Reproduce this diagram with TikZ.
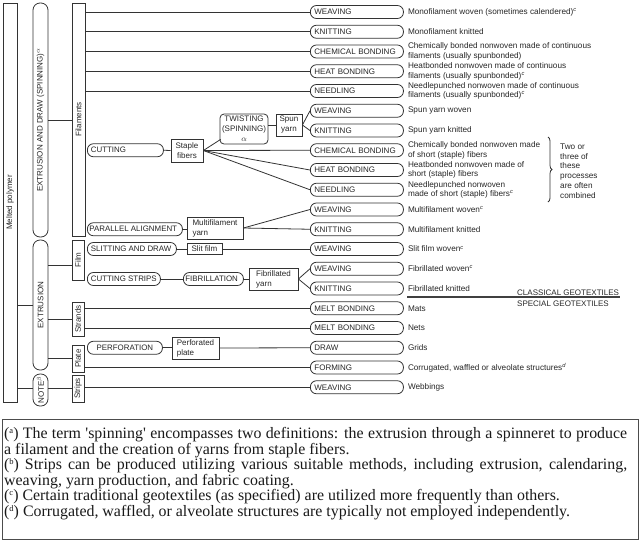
\documentclass[tikz,border=0pt]{standalone}
\usepackage{fontspec}
\setmainfont{Liberation Serif}
\setsansfont{Liberation Sans}
\usetikzlibrary{decorations.pathreplacing,calc}
\newcommand{\nsup}[1]{\textsuperscript{\itshape #1}}
\newcommand{\lbtext}[2]{\makebox[#1][l]{#2}}
\newcommand{\fnmark}[1]{(\raisebox{0.33em}{\fontsize{8.5}{8.5}\selectfont #1})}
\begin{document}
\begin{tikzpicture}[x=1pt,y=-1pt,
  ln/.style={draw=black!80,line width=0.8pt},
  sf/.style={font=\sffamily\fontsize{8}{9.5}\selectfont, text=black!85},
  vbar/.style={ln, sf, rotate=90, inner sep=0pt, anchor=center},
  rbar/.style={vbar, rounded corners=7pt},
  rnode/.style={ln, sf, rounded corners=6pt, anchor=west, minimum height=13pt, text width=85pt, inner xsep=4pt, inner ysep=0pt},
  lbox/.style={ln, sf, font=\sffamily\fontsize{7.9}{9.5}\selectfont, rounded corners=6pt, anchor=west, minimum height=13pt, inner xsep=3.5pt, inner ysep=0pt},
  sbox/.style={ln, sf, inner sep=0pt, align=center},
  desc/.style={sf, font=\sffamily\fontsize{8.2}{9.3}\selectfont, anchor=west, align=left, inner sep=0pt},
  conn/.style={draw=black!80, line width=0.8pt}
]
\useasboundingbox (0,0) rectangle (640,542);

% vertical bars
\node[vbar, minimum width=399pt, minimum height=14pt] (melt) at (10,202.5) {Melted polymer};
\node[rbar, minimum width=234pt, minimum height=15pt] (ead) at (40.5,120) {EXTRUSION AND DRAW (SPINNING)$^{\alpha}$};
\node[vbar, minimum width=233pt, minimum height=13pt] (fil) at (78.5,119.5) {Filaments};
\node[rbar, minimum width=130pt, minimum height=15pt] (extr) at (40.5,305) {EXTRUSION};
\node[vbar, minimum width=40pt, minimum height=12pt] (film) at (78,260) {Film};
\node[vbar, minimum width=34pt, minimum height=12pt] (strands) at (78,319) {Strands};
\node[vbar, minimum width=27pt, minimum height=12pt] (plate) at (78,358.5) {Plate};
\node[rbar, minimum width=32pt, minimum height=15pt] (note) at (40.5,390) {NOTE$^{\beta}$};
\node[vbar, minimum width=27pt, minimum height=12pt] (strips) at (78,388.5) {Strips};

% right column process nodes
\foreach \i/\t in {0/WEAVING,1/KNITTING,2/CHEMICAL BONDING,3/HEAT BONDING,4/NEEDLING,5/WEAVING,6/KNITTING,7/CHEMICAL BONDING,8/HEAT BONDING,9/NEEDLING,10/WEAVING,11/KNITTING,12/WEAVING,13/WEAVING,14/KNITTING,15/MELT BONDING,16/MELT BONDING,17/DRAW,18/FORMING,19/WEAVING}
  \node[rnode] (w\i) at (310,{12+19.75*\i}) {\t};

% descriptions
\node[desc] (d0) at ([xshift=4pt]w0.east) {Monofilament woven (sometimes calendered)\nsup{c}};
\node[desc] (d1) at ([xshift=4pt]w1.east) {Monofilament knitted};
\node[desc] (d2) at ([xshift=4pt]w2.east) {Chemically bonded nonwoven made of continuous\\filaments (usually spunbonded)};
\node[desc] (d3) at ([xshift=4pt]w3.east) {Heatbonded nonwoven made of continuous\\filaments (usually spunbonded)\nsup{c}};
\node[desc] (d4) at ([xshift=4pt]w4.east) {Needlepunched nonwoven made of continuous\\filaments (usually spunbonded)\nsup{c}};
\node[desc] (d5) at ([xshift=4pt]w5.east) {Spun yarn woven};
\node[desc] (d6) at ([xshift=4pt]w6.east) {Spun yarn knitted};
\node[desc] (d7) at ([xshift=4pt]w7.east) {Chemically bonded nonwoven made\\of short (staple) fibers};
\node[desc] (d8) at ([xshift=4pt]w8.east) {Heatbonded nonwoven made of\\short (staple) fibers};
\node[desc] (d9) at ([xshift=4pt]w9.east) {Needlepunched nonwoven\\made of short (staple) fibers\nsup{c}};
\node[desc] (d10) at ([xshift=4pt]w10.east) {Multifilament woven\nsup{c}};
\node[desc] (d11) at ([xshift=4pt]w11.east) {Multifilament knitted};
\node[desc] (d12) at ([xshift=4pt]w12.east) {Slit film woven\nsup{c}};
\node[desc] (d13) at ([xshift=4pt]w13.east) {Fibrillated woven\nsup{c}};
\node[desc] (d14) at ([xshift=4pt]w14.east) {Fibrillated knitted};
\node[desc] (d15) at ([xshift=4pt]w15.east) {Mats};
\node[desc] (d16) at ([xshift=4pt]w16.east) {Nets};
\node[desc] (d17) at ([xshift=4pt]w17.east) {Grids};
\node[desc] (d18) at ([xshift=4pt]w18.east) {Corrugated, waffled or alveolate structures\nsup{d}};
\node[desc] (d19) at ([xshift=4pt]w19.east) {Webbings};

% brace and its text
\draw[conn, decorate, decoration={brace, amplitude=4pt}] (548,137) -- (548,202);
\node[desc, font=\sffamily\fontsize{8.2}{9.8}\selectfont] (two) at (560,171) {Two or\\three of\\these\\processes\\are often\\combined};

% classical / special
\draw[draw=black!75, line width=1.3pt] (407,297) -- (620,297);
\node[sf, font=\sffamily\fontsize{8}{9}\selectfont, anchor=base west, inner sep=0pt] (cl) at (517,295) {CLASSICAL GEOTEXTILES};
\node[sf, font=\sffamily\fontsize{8}{9}\selectfont, anchor=north west, inner sep=0pt] (sp) at (517,300.5) {SPECIAL GEOTEXTILES};

% intermediate nodes
\node[lbox] (cut) at (87,150.25) {\lbtext{69pt}{CUTTING}};
\node[sbox, minimum width=32pt, minimum height=23pt, font=\sffamily\fontsize{8}{10}\selectfont] (staple) at (187,150.5) {Staple\\fibers};
\node[sbox, rounded corners=4pt, minimum width=48pt, minimum height=30pt, font=\sffamily\fontsize{8}{10}\selectfont] (twist) at (244,129) {TWISTING\\(SPINNING)\\$\alpha$};
\node[sbox, minimum width=26pt, minimum height=22pt, font=\sffamily\fontsize{8}{10}\selectfont] (spun) at (289,125) {Spun\\yarn};
\node[lbox, inner xsep=2pt] (par) at (87,229.25) {\lbtext{91pt}{PARALLEL ALIGNMENT}};
\node[sbox, align=left, minimum width=56pt, minimum height=22pt, font=\sffamily\fontsize{8}{10}\selectfont] (multi) at (215,228) {Multifilament\\yarn};
\node[lbox] (slit) at (87,249) {\lbtext{82pt}{SLITTING AND DRAW}};
\node[sbox, minimum width=35pt, minimum height=11pt] (slitfilm) at (204.5,249) {Slit film};
\node[lbox] (cstrips) at (87,279) {\lbtext{66pt}{CUTTING STRIPS}};
\node[lbox, inner xsep=2pt] (fibr) at (183,279) {\lbtext{56pt}{FIBRILLATION}};
\node[sbox, align=left, minimum width=49pt, minimum height=22pt, font=\sffamily\fontsize{8}{10}\selectfont] (fibyarn) at (273.5,279) {Fibrillated\\yarn};
\node[lbox, minimum width=75pt] (perf) at (87,347.75) {PERFORATION};
\node[sbox, align=left, minimum width=47pt, minimum height=22pt, font=\sffamily\fontsize{8}{10}\selectfont] (pplate) at (195.5,348) {Perforated\\plate};

% connectors between bars
\draw[conn] (melt.south |- extr.north) -- (extr.north);
\draw[conn] (melt.south |- strips.north) -- (note.north |- strips.north);
\draw[conn] (ead.south) -- (ead.south -| fil.north);
\draw[conn] ($(extr.south |- film.north)+(0,5)$) -- ($(film.north)+(0,5)$);
\draw[conn] (extr.south |- strands.north) -- (strands.north);
\draw[conn] (extr.south |- plate.north) -- (plate.north);
\draw[conn] (note.south |- strips.north) -- (strips.north);

% bars to process nodes
\foreach \i in {0,1,2,3,4} \draw[conn] (fil.south |- w\i.west) -- (w\i.west);
\foreach \i in {15,16} \draw[conn] (strands.south |- w\i.west) -- (w\i.west);
\draw[conn] (plate.south |- w18.west) -- (w18.west);
\draw[conn] (strips.south |- w19.west) -- (w19.west);

% staple fibre branch
\draw[conn] (cut.east) -- (staple.west);
\draw[conn] (staple.east) -- ($(twist.south west)+(1,-5)$);
\foreach \i in {7,8,9} \draw[conn] (staple.east) -- (w\i.west);
\draw[conn] (twist.east |- spun.west) -- (spun.west);
\foreach \i in {5,6} \draw[conn] (spun.east) -- (w\i.west);

% multifilament
\draw[conn] (par.east) -- (par.east -| multi.west);
\foreach \i in {10,11} \draw[conn] (multi.east) -- (w\i.west);

% slit film
\draw[conn] (slit.east) -- (slitfilm.west);
\draw[conn] (slitfilm.east) -- (w12.west);

% fibrillated
\draw[conn] (cstrips.east) -- (fibr.west);
\draw[conn] (fibr.east) -- (fibyarn.west);
\foreach \i in {13,14} \draw[conn] (fibyarn.east) -- (w\i.west);

% perforation
\draw[conn] (perf.east) -- (perf.east -| pplate.west);
\draw[conn] (pplate.east) -- (w17.west);

% notes box
\node[draw=black!70, line width=0.8pt, minimum width=636pt, minimum height=120pt, anchor=north west, inner sep=0pt] (box) at (2,419) {};
\node[anchor=north west, inner sep=0pt, text width=623pt, align=justify, font=\fontsize{15.9}{15.5}\selectfont, text=black!90] (notes) at (4,427.5) {%
\fnmark{a} The term \textquotesingle spinning\textquotesingle{} encompasses two definitions: the extrusion through a spinneret to produce\linebreak a filament and the creation of yarns from staple fibers.\\
\fnmark{b} Strips can be produced utilizing various suitable methods, including extrusion, calendaring,\linebreak weaving, yarn production, and fabric coating.\\
\fnmark{c} Certain traditional geotextiles (as specified) are utilized more frequently than others.\\
\fnmark{d} Corrugated, waffled, or alveolate structures are typically not employed independently.};
\end{tikzpicture}
\end{document}
